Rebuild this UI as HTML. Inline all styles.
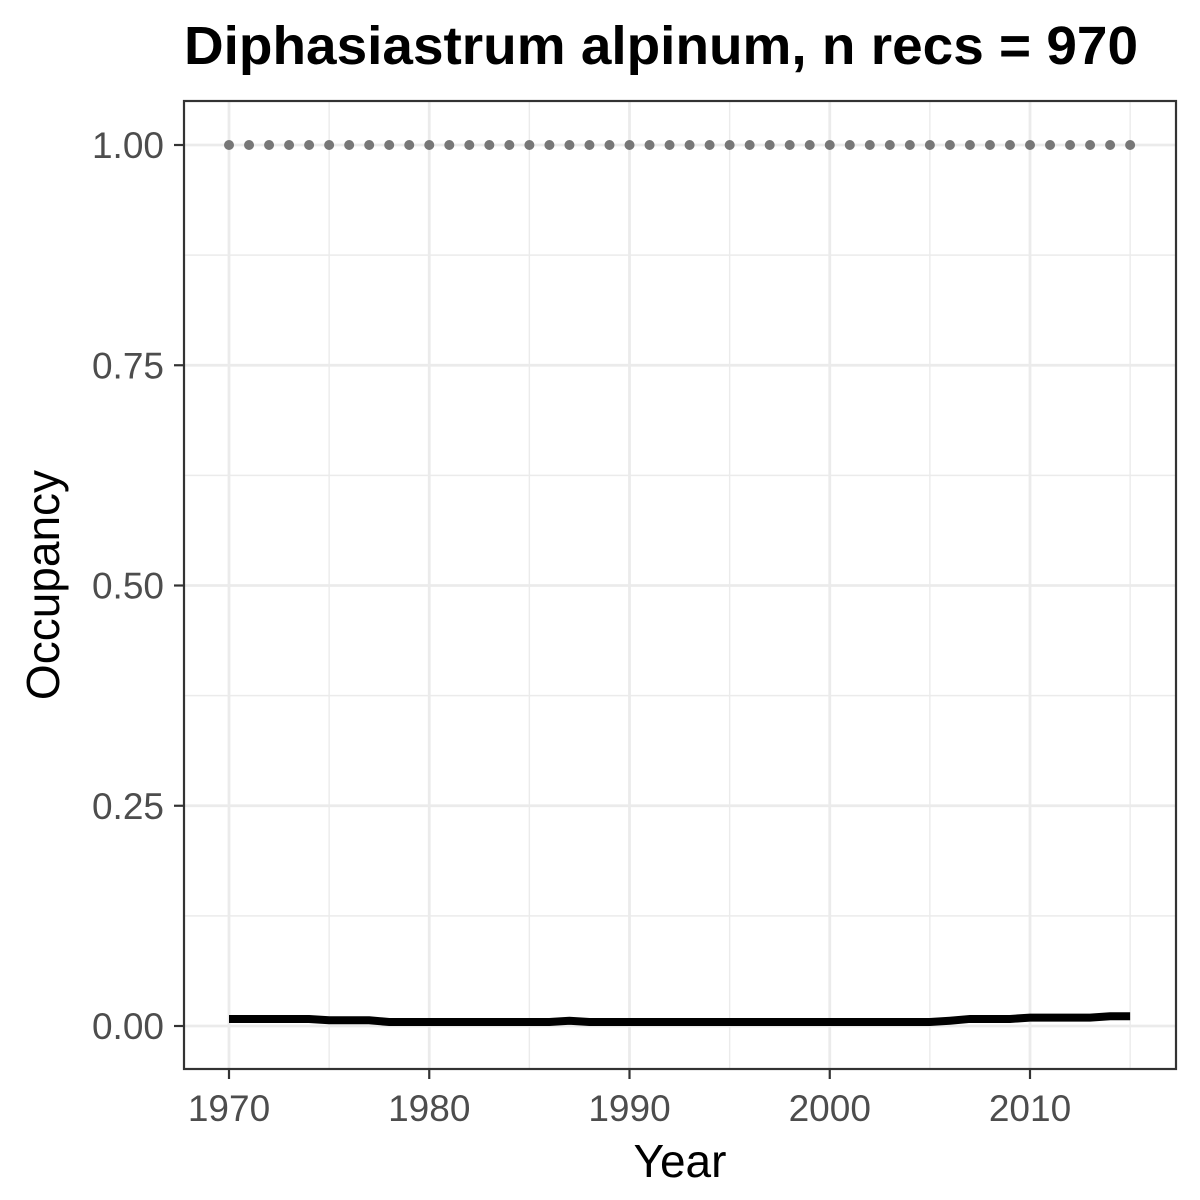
<!DOCTYPE html>
<html><head><meta charset="utf-8"><style>body{margin:0;background:#fff}svg{display:block;font-family:"Liberation Sans",Arial,sans-serif}</style></head>
<body>
<svg id="chart" width="1200" height="1200" viewBox="0 0 1200 1200">
<rect width="1200" height="1200" fill="#fff"/>
<text x="184" y="64" font-size="54" font-weight="bold" fill="#000" textLength="954" lengthAdjust="spacingAndGlyphs">Diphasiastrum alpinum, n recs = 970</text>
<g id="grid"></g>
<g id="marks"></g>
<rect x="184" y="101" width="992" height="968" fill="none" stroke="#333" stroke-width="2.2"/>
<g id="axes"></g>
<text x="680" y="1177" font-size="46" text-anchor="middle" fill="#000">Year</text>
<text transform="translate(59,585) rotate(-90)" font-size="46" text-anchor="middle" fill="#000">Occupancy</text>
</svg>
<script>
const years=[1970,1971,1972,1973,1974,1975,1976,1977,1978,1979,1980,1981,1982,1983,1984,1985,1986,1987,1988,1989,1990,1991,1992,1993,1994,1995,1996,1997,1998,1999,2000,2001,2002,2003,2004,2005,2006,2007,2008,2009,2010,2011,2012,2013,2014,2015];
const occupancy=[0.008,0.008,0.008,0.008,0.008,0.0065,0.0065,0.0065,0.0045,0.0045,0.0045,0.0045,0.0045,0.0045,0.0045,0.0045,0.0045,0.006,0.0045,0.0045,0.0045,0.0045,0.0045,0.0045,0.0045,0.0045,0.0045,0.0045,0.0045,0.0045,0.0045,0.0045,0.0045,0.0045,0.0045,0.0045,0.006,0.008,0.008,0.008,0.0095,0.0095,0.0095,0.0095,0.011,0.011];
const upper=years.map(()=>1.0);
const xTicks=[1970,1980,1990,2000,2010];
const yTicks=[0,0.25,0.5,0.75,1];
const yTickLabels=["0.00","0.25","0.50","0.75","1.00"];
const NS="http://www.w3.org/2000/svg";
const x=v=>229+(v-1970)*20.025;
const y=v=>1026-v*881;
function mk(t,a,p){const e=document.createElementNS(NS,t);for(const k in a)e.setAttribute(k,a[k]);p.appendChild(e);return e;}
const grid=document.getElementById('grid'),marks=document.getElementById('marks'),axes=document.getElementById('axes');
for(let v=1965;v<=2015;v+=5){if(x(v)<184||x(v)>1176)continue;const major=v%10===0;const l=mk('line',{x1:x(v),x2:x(v),y1:101,y2:1069,stroke:'#ebebeb','stroke-width':major?2.8:1.4},grid);

}
for(let v=-0.125;v<=1.125;v+=0.125){if(y(v)<101||y(v)>1069)continue;const major=Math.abs(v*4-Math.round(v*4))<1e-6;const l=mk('line',{x1:184,x2:1176,y1:y(v),y2:y(v),stroke:'#ebebeb','stroke-width':major?2.8:1.4},grid);

}
years.forEach((yr,i)=>{const c=mk('circle',{cx:x(yr),cy:y(upper[i]),r:5,fill:'#777'},marks);

});
const p=mk('polyline',{points:years.map((yr,i)=>x(yr)+','+y(occupancy[i])).join(' '),fill:'none',stroke:'#000','stroke-width':8},marks);


xTicks.forEach(v=>{const t=mk('line',{x1:x(v),x2:x(v),y1:1069,y2:1079,stroke:'#333','stroke-width':2.2},axes);


const s=mk('text',{x:x(v),y:1121,'font-size':37,'text-anchor':'middle',fill:'#4d4d4d'},axes);s.textContent=v;

});
yTicks.forEach((v,i)=>{const t=mk('line',{x1:174,x2:184,y1:y(v),y2:y(v),stroke:'#333','stroke-width':2.2},axes);


const s=mk('text',{x:164,y:y(v)+13,'font-size':37,'text-anchor':'end',fill:'#4d4d4d'},axes);s.textContent=yTickLabels[i];

});
</script>
</body></html>
